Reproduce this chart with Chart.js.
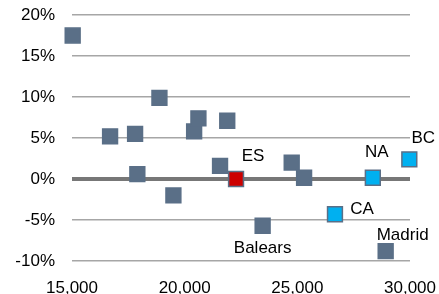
<!DOCTYPE html>
<html lang="en">
<head>
    <meta charset="UTF-8">
    <title>Scatter</title>
    <script src="https://cdn.jsdelivr.net/npm/chart.js@4.4.1/dist/chart.umd.min.js"></script>
    <style>
        body { margin: 0; background: #fff; }
    </style>
</head>
<body>
<canvas id="chart" width="439" height="294"></canvas>
<script>
    // income per head (x) vs change in % (y)
    const regionNames = ['', '', '', '', '', '', '', '', '', '', 'ES', '', '', 'Balears', 'CA', 'NA', 'BC', 'Madrid'];
    const xValues = [15030, 16690, 17800, 18880, 20420, 20610, 21890, 17900, 19500, 21570, 22280, 24750, 25300, 23460, 26670, 28350, 29970, 28920];
    const yValues = [17.5, 5.2, 5.5, 9.9, 5.8, 7.4, 7.1, 0.6, -2.0, 1.6, 0.0, 2.0, 0.15, -5.7, -4.3, 0.15, 2.4, -8.8];
    const highlight = ['', '', '', '', '', '', '', '', '', '', 'red', '', '', '', 'blue', 'blue', 'blue', ''];
    const yTicks = [-10, -5, 0, 5, 10, 15, 20];
    const xTicks = [15000, 20000, 25000, 30000];

    const base = '#5a6f87';
    const colors = highlight.map(h => h === 'red' ? '#cc0000' : h === 'blue' ? '#00b0f0' : base);

    // label offsets from the marker, in pixels
    const labelOffset = {
        'ES': [17, -23], 'NA': [4, -25], 'BC': [14, -21],
        'CA': [27, -5], 'Balears': [0, 23], 'Madrid': [17, -16]
    };

    const labelPlugin = {
        id: 'pointLabels',
        afterDatasetsDraw(chart) {
            const ctx = chart.ctx;
            const meta = chart.getDatasetMeta(0);
            ctx.save();
            ctx.font = '17px "Liberation Sans", Arial, sans-serif';
            ctx.fillStyle = '#000';
            ctx.textAlign = 'center';
            ctx.textBaseline = 'middle';
            meta.data.forEach((pt, i) => {
                const name = regionNames[i];
                if (!name) return;
                const off = labelOffset[name] || [0, -20];
                ctx.fillText(name, pt.x + off[0], pt.y + off[1]);
            });
            ctx.restore();
        }
    };

    const points = xValues.map((x, i) => ({x: x, y: yValues[i]}));

    new Chart(document.getElementById('chart'), {
        type: 'scatter',
        data: {
            datasets: [{
                data: points,
                pointStyle: 'rect',
                pointRadius: 10.5,
                pointHoverRadius: 10.5,
                backgroundColor: colors,
                borderColor: base,
                borderWidth: 1.5,
                clip: false
            }]
        },
        options: {
            responsive: false,
            animation: false,
            layout: { padding: { top: 15, right: 29, left: 0, bottom: 0 } },
            plugins: { legend: { display: false }, tooltip: { enabled: false } },
            scales: {
                x: {
                    type: 'linear',
                    min: 15000,
                    max: 30000,
                    afterBuildTicks: s => { s.ticks = xTicks.map(v => ({value: v})); },
                    afterFit: s => { s.height = 33; s.paddingLeft = 0; s.paddingRight = 0; },
                    grid: { display: false },
                    border: { display: false },
                    ticks: {
                        color: '#000',
                        padding: 9,
                        font: { family: '"Liberation Sans", Arial, sans-serif', size: 17 },
                        callback: v => v.toLocaleString('en-US')
                    }
                },
                y: {
                    min: -10,
                    max: 20,
                    afterBuildTicks: s => { s.ticks = yTicks.map(v => ({value: v})); },
                    afterFit: s => { s.width = 72; s.paddingTop = 0; s.paddingBottom = 0; },
                    border: { display: false },
                    grid: {
                        drawTicks: false,
                        color: c => c.tick && c.tick.value === 0 ? '#777777' : '#a6a6a6',
                        lineWidth: c => c.tick && c.tick.value === 0 ? 4 : 1.5
                    },
                    ticks: {
                        color: '#000',
                        padding: 17,
                        font: { family: '"Liberation Sans", Arial, sans-serif', size: 17 },
                        callback: v => v + '%'
                    }
                }
            }
        },
        plugins: [labelPlugin]
    });
</script>
</body>
</html>
